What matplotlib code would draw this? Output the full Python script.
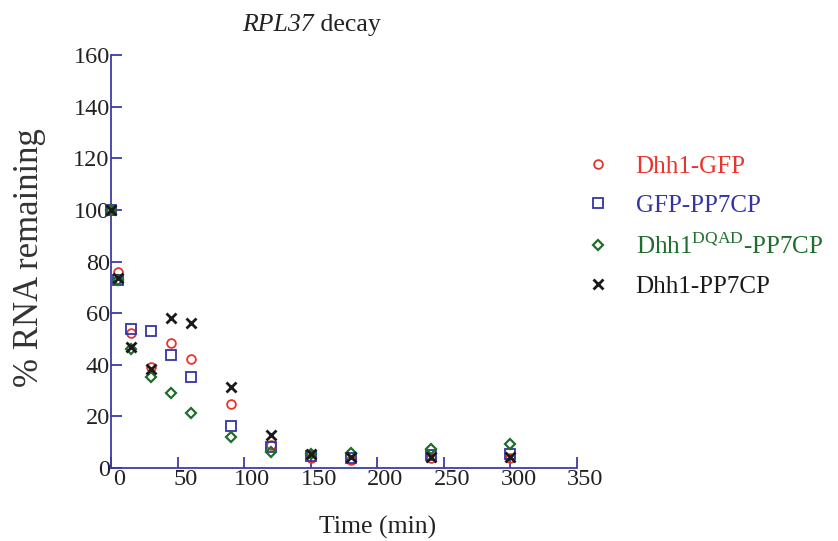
import matplotlib.pyplot as plt
import matplotlib.transforms as mtransforms
from matplotlib.lines import Line2D

plt.rcParams['font.family'] = ['Liberation Serif', 'DejaVu Serif']
plt.rcParams['mathtext.fontset'] = 'custom'
plt.rcParams['mathtext.rm'] = 'Liberation Serif'

# time points (min)
time = [0, 5, 15, 30, 45, 60, 90, 120, 150, 180, 240, 300]

dhh1_gfp = [100, 75.9, 52.5, 39.3, 48.6, 42.4, 24.9, 9.0, 4.0, 3.0, 4.0, 4.0]
gfp_pp7cp = [100, 73.0, 54.0, 53.0, 43.6, 35.4, 16.3, 8.0, 4.5, 4.0, 5.0, 5.5]
dqad_pp7cp = [100, 72.8, 46.0, 35.4, 29.2, 21.4, 12.0, 6.2, 5.5, 5.8, 7.4, 9.3]
dhh1_pp7cp = [100, 73.5, 46.7, 38.5, 58.0, 56.0, 31.5, 12.8, 5.4, 4.3, 4.3, 4.3]

labels = ['Dhh1-GFP', 'GFP-PP7CP', r'Dhh1$^{\mathrm{DQAD}}$-PP7CP', 'Dhh1-PP7CP']
colors = ['#e8342c', '#3434a4', '#1f6e2c', '#1a1a1a']
axis_color = '#3b3bab'

fig = plt.figure(figsize=(8.38, 5.41), dpi=100)
ax = fig.add_axes([0.1325, 0.1349, 0.556, 0.7634])

series = [dhh1_gfp, gfp_pp7cp, dqad_pp7cp, dhh1_pp7cp]
styles = [dict(marker='o', ms=6.3, mfc='none', mew=1.3),
          dict(marker='s', ms=6.5, mfc='none', mew=1.3),
          dict(marker='D', ms=5.5, mfc='none', mew=1.6),
          dict(marker='x', ms=7.5, mew=2.0)]

handles = []
for ys, c, st in zip(series, colors, styles):
    ax.plot(time, ys, linestyle='none', color=c, mec=c, clip_on=False, zorder=3, **st)
    handles.append(Line2D([], [], linestyle='none', color=c, mec=c, **st))

ax.set_xlim(0, 350)
ax.set_ylim(0, 160)
ax.set_xticks(range(0, 351, 50))
ax.set_yticks(range(0, 161, 20))

for side in ['top', 'right']:
    ax.spines[side].set_visible(False)
for side in ['left', 'bottom']:
    ax.spines[side].set_color(axis_color)
    ax.spines[side].set_linewidth(1.3)
ax.tick_params(direction='in', length=8, width=1.3, color=axis_color,
               labelsize=17.5, labelcolor='#222222', pad=1)

# x tick labels sit a little right of their ticks in the original
shift = mtransforms.ScaledTranslation(8 / 100, 0, fig.dpi_scale_trans)
for lbl in ax.get_xticklabels():
    lbl.set_transform(lbl.get_transform() + shift)

ax.set_xlabel('Time (min)', fontsize=18.5, color='#222222', va='center')
ax.xaxis.set_label_coords((378 - 111) / 466, -(527 - 468) / 413)

ax.set_ylabel('% RNA remaining', fontsize=25, color='#333333', va='center')
ax.yaxis.set_label_coords((29 - 111) / 466, (468 - 258) / 413)

fig.text(314 / 838, 1 - 25 / 541, 'RPL37', fontsize=18.5, style='italic',
         ha='right', va='center', color='#222222')
fig.text(314 / 838, 1 - 25 / 541, ' decay', fontsize=18.5,
         ha='left', va='center', color='#222222')

fig.legend(handles, labels, loc='upper left', bbox_to_anchor=(0.684, 0.736),
           frameon=False, fontsize=18, labelcolor=colors, handlelength=1.0,
           handletextpad=1.0, labelspacing=0.66, borderpad=0)

fig.savefig('out.png', dpi=100)
